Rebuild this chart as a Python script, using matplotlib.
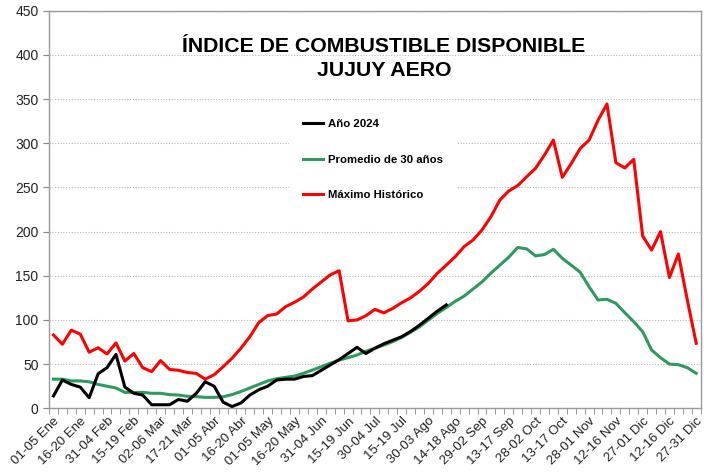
import numpy as np
import matplotlib.pyplot as plt

plt.rcParams['font.family'] = ['Liberation Sans', 'DejaVu Sans']

# pentadas (73 por año), etiqueta cada 3
etiquetas = ['01-05 Ene', '16-20 Ene', '31-04 Feb', '15-19 Feb', '02-06 Mar',
             '17-21 Mar', '01-05 Abr', '16-20 Abr', '01-05 May', '16-20 May',
             '31-04 Jun', '15-19 Jun', '30-04 Jul', '15-19 Jul', '30-03 Ago',
             '14-18 Ago', '29-02 Sep', '13-17 Sep', '28-02 Oct', '13-17 Oct',
             '28-01 Nov', '12-16 Nov', '27-01 Dic', '12-16 Dic', '27-31 Dic']

anio_2024 = [14, 32, 27, 24, 12, 39, 46, 61, 24, 17,
             15, 4, 4, 4, 10, 8, 17, 30, 25, 7,
             2, 6, 15, 21, 25, 32, 33, 33, 36, 37,
             43, 49, 55, 62, 69, 62, 68, 73, 77, 81,
             87, 94, 102, 110, 117]

promedio = [33, 33, 31, 31, 30, 27, 25, 23, 18, 18,
            18, 17, 17, 15.5, 15, 13.6, 13.2, 12.4, 12.4, 13,
            15.5, 19, 23, 27, 31, 33.5, 35, 36.5, 39.6, 43.3,
            47, 51, 54.7, 57.3, 60.3, 64.5, 68, 71.6, 75.4, 80.3,
            86, 92.3, 100, 107.5, 114, 121, 127, 135, 143, 153,
            162, 171, 182, 180.5, 172.5, 174, 180, 169.7, 162, 154,
            137.6, 122.6, 123.4, 118.8, 108.2, 98, 86.7, 66, 57.3, 50,
            49.4, 46, 39.6]

maximo = [83, 72.5, 88.5, 84, 63.5, 68.5, 61.5, 74, 53.5, 62,
          46, 41.5, 54, 44, 43, 40.5, 39.5, 33, 38, 47,
          56.6, 68, 81, 97, 105, 106.7, 115, 120, 126, 135,
          143, 151, 155.7, 99, 100, 104.8, 112, 108, 113, 119.5,
          125, 132.5, 141.5, 152.8, 162, 171.6, 183, 190.5, 201.8, 216.8,
          235.7, 246, 252, 262, 271.6, 286.7, 303.6, 261.4, 277, 294,
          303.6, 326, 344.4, 278, 272, 281.8, 195, 179, 200, 148,
          174.6, 122.6, 73.6]

fig = plt.figure(figsize=(7.04, 4.74), dpi=100)
ax = fig.add_axes([0.0696, 0.1386, 0.9257, 0.8388])

ax.plot(range(len(anio_2024)), anio_2024, color='black', lw=2.2, label='Año 2024', zorder=4)
ax.plot(range(len(promedio)), promedio, color='#2e9a5e', lw=2.2, label='Promedio de 30 años', zorder=3)
ax.plot(range(len(maximo)), maximo, color='#ff0000', lw=2.2, label='Máximo Histórico', zorder=2)

ax.set_xlim(-0.5, 72.5)
ax.set_ylim(0, 450)
ax.set_yticks(np.arange(0, 451, 50))
ax.set_xticks(np.arange(0, 73, 3))
ax.set_xticklabels(etiquetas, rotation=45, ha='right', rotation_mode='anchor', fontsize=9.5, color='#222222')
ax.set_xticks(np.arange(-0.5, 73, 1), minor=True)
ax.tick_params(axis='x', which='major', length=0, pad=5)
ax.tick_params(axis='x', which='minor', length=4, color='#888888', direction='out')
ax.tick_params(axis='y', length=4, color='#888888', labelsize=10, labelcolor='#222222')

ax.grid(axis='y', linestyle=(0, (1, 1.5)), color='#b8b8b8', lw=0.8)
ax.set_axisbelow(True)
for s in ax.spines.values():
    s.set_color('#999999')
    s.set_linewidth(1.0)

ax.text(0.514, 0.933, 'ÍNDICE DE COMBUSTIBLE DISPONIBLE\nJUJUY AERO', transform=ax.transAxes,
        ha='center', va='top', fontsize=15.3, fontweight='bold', linespacing=1.33)

leg = ax.legend(loc='upper left', bbox_to_anchor=(0.369, 0.762), frameon=True, fancybox=False,
                prop={'weight': 'bold', 'size': 8.2}, handlelength=1.7, handletextpad=0.5,
                labelspacing=2.25, borderpad=1.2, borderaxespad=0)
leg.get_frame().set_facecolor('white')
leg.get_frame().set_edgecolor('none')
leg.get_frame().set_alpha(1)

fig.savefig('out.png', dpi=100)
